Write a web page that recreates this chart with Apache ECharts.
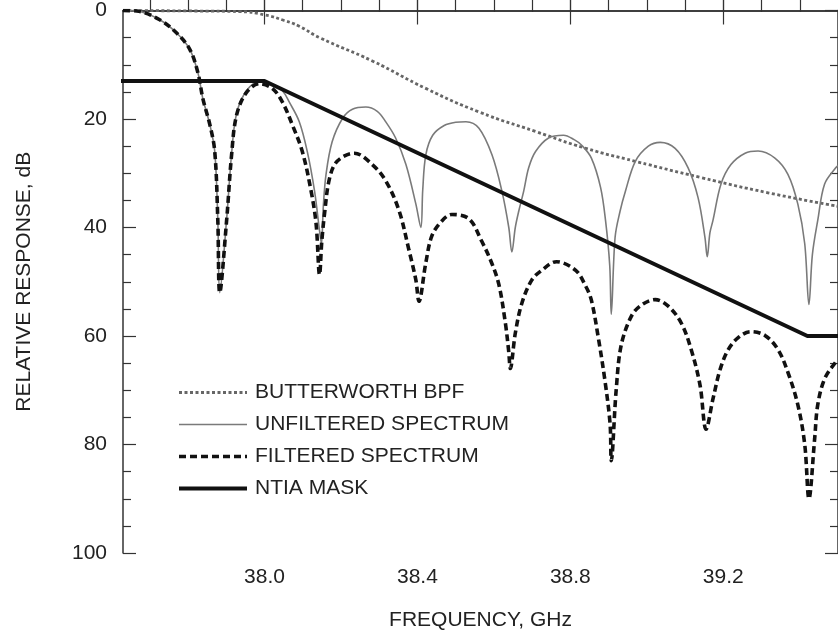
<!DOCTYPE html>
<html>
<head>
<meta charset="utf-8">
<script src="https://cdn.jsdelivr.net/npm/echarts@6/dist/echarts.min.js"></script>
<style>
  html, body { margin: 0; padding: 0; background: #fff; }
  #chart { width: 838px; height: 636px; }
</style>
</head>
<body>
<div id="chart"></div>
<script>
// axis ticks
var xMajorTicks = [38.0, 38.4, 38.8, 39.2];
var xMinorTicks = [37.7, 37.8, 37.9, 38.0, 38.1, 38.2, 38.3, 38.4, 38.5, 38.6, 38.7, 38.8, 38.9, 39.0, 39.1, 39.2, 39.3, 39.4];

// butterworth band pass filter response
var bpfFreq = [37.63, 37.83, 37.935, 38.0, 38.05, 38.091, 38.144, 38.282, 38.423, 38.561, 38.709, 38.84, 38.97, 39.142, 39.317, 39.5];
var bpfDb = [0, 0.1, 0.2, 0.8, 1.8, 2.9, 5.0, 9.3, 14.4, 18.7, 22.3, 25.4, 27.8, 30.8, 33.6, 36.1];

// unfiltered spectrum
var unfFreq = [37.63, 37.666, 37.726, 37.771, 37.805, 37.826, 37.839, 37.857, 37.870, 37.878, 37.883,
  37.901, 37.914, 37.927, 37.953, 37.987, 38.021, 38.047, 38.065, 38.091, 38.112, 38.131, 38.144, 38.149,
  38.154, 38.161, 38.177, 38.204, 38.230, 38.265, 38.295, 38.317, 38.343, 38.370, 38.396, 38.409,
  38.414, 38.422, 38.440, 38.470, 38.500, 38.527, 38.561, 38.595, 38.621, 38.639, 38.647,
  38.656, 38.665, 38.678, 38.691, 38.709, 38.743, 38.782, 38.810, 38.829, 38.855, 38.879, 38.892, 38.903, 38.907,
  38.917, 38.930, 38.944, 38.970, 39.004, 39.035, 39.074, 39.108, 39.134, 39.152, 39.158,
  39.165, 39.173, 39.194, 39.220, 39.257, 39.291, 39.335, 39.369, 39.395, 39.413, 39.424,
  39.433, 39.447, 39.465, 39.494, 39.5];
var unfDb = [0, 0.1, 1.7, 4.2, 7.2, 11.5, 16.3, 21, 26, 38.7, 52,
  38.5, 26.4, 19, 14.8, 13.1, 13.6, 14.8, 16.9, 20.5, 26, 33.3, 40.6, 43,
  36, 30.2, 24.2, 19.9, 18.2, 17.8, 18.6, 20.5, 23.5, 28.4, 35.7, 40,
  33, 26.6, 23, 21.2, 20.6, 20.5, 21.7, 26.6, 33.3, 40, 44.5,
  40, 37, 33.3, 29, 26, 23.5, 23, 23.8, 24.8, 27.2, 32.6, 38.7, 47, 56,
  41.8, 37, 33.3, 27.8, 25, 24.3, 25.4, 29, 34.5, 41.8, 45.4,
  41, 38.7, 32, 28.4, 26.3, 25.9, 27.2, 30.2, 35.7, 43, 54.2,
  45, 38.7, 32, 29, 28.6];

// filtered spectrum
var filFreq = [37.63, 37.666, 37.726, 37.771, 37.805, 37.826, 37.839, 37.857, 37.870, 37.878, 37.883,
  37.901, 37.914, 37.927, 37.953, 37.987, 38.021, 38.047, 38.073, 38.099, 38.122, 38.135, 38.144,
  38.150, 38.157, 38.170, 38.190, 38.235, 38.282, 38.318, 38.352, 38.378, 38.396, 38.404,
  38.422, 38.438, 38.464, 38.490, 38.535, 38.568, 38.594, 38.613, 38.630, 38.639, 38.643,
  38.656, 38.673, 38.699, 38.725, 38.764, 38.814, 38.840, 38.855, 38.874, 38.891, 38.904, 38.907,
  38.920, 38.933, 38.960, 38.986, 39.022, 39.056, 39.090, 39.116, 39.139, 39.155,
  39.173, 39.192, 39.213, 39.239, 39.272, 39.309, 39.343, 39.369, 39.395, 39.413, 39.424,
  39.439, 39.447, 39.465, 39.494, 39.5];
var filDb = [0, 0.1, 1.7, 4.2, 7.2, 11.5, 16.3, 21, 26, 38.7, 52,
  38.7, 26.6, 19.3, 15.1, 13.5, 14.4, 16.9, 21.1, 26, 33.3, 39.3, 48.7,
  42.5, 37.5, 31, 27.8, 26.3, 28.4, 31.5, 36.9, 44.2, 49.7, 53.6,
  46.5, 41.5, 38.8, 37.6, 38.4, 42.5, 46.5, 50.5, 57.6, 63, 66,
  59.5, 54, 49.7, 47.9, 46.3, 47.9, 50.8, 53.4, 60.7, 68.5, 76.3, 83,
  69.8, 61.7, 56.3, 54.3, 53.3, 54.5, 57.6, 62.5, 69, 77.2,
  71.6, 66.1, 62.5, 60.3, 59.2, 59.9, 62.5, 66.7, 72.7, 80, 90,
  78.9, 72.7, 67.9, 64.8, 64.5];

// NTIA mask
var ntiaFreq = [37.617, 38.0, 39.42, 39.5];
var ntiaDb = [13, 13, 60, 60];

function pairs(xs, ys) {
  var out = [];
  for (var i = 0; i < xs.length; i++) {
    out.push([xs[i], ys[i]]);
  }
  return out;
}

var font = 'Liberation Sans, Arial, Helvetica, sans-serif';
var axisColor = '#333';
var rect = { left: 123, top: 4, width: 716, height: 549 };

// major x ticks (with labels) on grid 0, minor x ticks on grid 1
function xAxisOf(grid, pos, ticks, len, withLine, withLabel) {
  var ax = {
    type: 'value',
    gridIndex: grid,
    position: pos,
    min: 37.63,
    max: 39.5,
    axisLine: { show: withLine, lineStyle: { color: axisColor, width: 1.5 } },
    axisTick: { inside: true, length: len, customValues: ticks, lineStyle: { color: axisColor, width: 1.2 } },
    axisLabel: { show: false },
    splitLine: { show: false }
  };
  if (withLabel) {
    ax.axisLabel = {
      show: true, customValues: xMajorTicks, margin: 14,
      fontFamily: font, fontSize: 21, color: '#222',
      formatter: function (v) { return v.toFixed(1); }
    };
    ax.name = 'FREQUENCY, GHz';
    ax.nameLocation = 'middle';
    ax.nameGap = 57;
    ax.nameTextStyle = { fontFamily: font, fontSize: 21, color: '#222' };
  }
  return ax;
}

function yAxisOf(grid, pos, withLabel, show) {
  var ax = {
    type: 'value',
    gridIndex: grid,
    position: pos,
    show: show,
    inverse: true,
    min: 0,
    max: 100,
    interval: 20,
    axisLine: { show: true, lineStyle: { color: axisColor, width: 1.5 } },
    axisTick: { inside: true, length: 13, lineStyle: { color: axisColor, width: 1.2 } },
    minorTick: { show: true, splitNumber: 4, length: 8, lineStyle: { color: axisColor, width: 1.2 } },
    axisLabel: { show: withLabel, margin: 16, fontFamily: font, fontSize: 21, color: '#222' },
    splitLine: { show: false }
  };
  if (withLabel) {
    ax.name = 'RELATIVE RESPONSE, dB';
    ax.nameLocation = 'middle';
    ax.nameGap = 88;
    ax.nameTextStyle = { fontFamily: font, fontSize: 21, color: '#222' };
  }
  return ax;
}

var chart = echarts.init(document.getElementById('chart'), null, { renderer: 'canvas' });

var option = {
  animation: false,
  backgroundColor: '#fff',
  grid: [
    { left: rect.left, top: rect.top, width: rect.width, height: rect.height },
    { left: rect.left, top: rect.top, width: rect.width, height: rect.height }
  ],
  xAxis: [
    xAxisOf(0, 'bottom', xMajorTicks, 14, true, true),
    xAxisOf(0, 'top', xMajorTicks, 14, true, false),
    xAxisOf(1, 'bottom', xMinorTicks, 8, false, false),
    xAxisOf(1, 'top', xMinorTicks, 8, false, false)
  ],
  yAxis: [
    yAxisOf(0, 'left', true, true),
    yAxisOf(0, 'right', false, true),
    yAxisOf(1, 'left', false, false)
  ],
  legend: {
    orient: 'vertical',
    left: 172,
    top: 377,
    itemWidth: 68,
    itemHeight: 14,
    itemGap: 11,
    textStyle: { fontFamily: font, fontSize: 21, color: '#222', padding: [0, 0, 0, 3] },
    itemStyle: { opacity: 0 },
    lineStyle: { width: 'inherit' },
    data: ['BUTTERWORTH BPF', 'UNFILTERED SPECTRUM', 'FILTERED SPECTRUM', 'NTIA MASK']
  },
  series: [
    {
      name: 'BUTTERWORTH BPF',
      type: 'line',
      xAxisIndex: 0, yAxisIndex: 0,
      symbol: 'none',
      smooth: 0.5,
      lineStyle: { color: '#666', width: 2.8, type: [3, 2.5] },
      itemStyle: { color: '#666' },
      data: pairs(bpfFreq, bpfDb)
    },
    {
      name: 'UNFILTERED SPECTRUM',
      type: 'line',
      xAxisIndex: 0, yAxisIndex: 0,
      symbol: 'none',
      smooth: 0.35,
      lineStyle: { color: '#7a7a7a', width: 1.6 },
      itemStyle: { color: '#7a7a7a' },
      data: pairs(unfFreq, unfDb)
    },
    {
      name: 'FILTERED SPECTRUM',
      type: 'line',
      xAxisIndex: 0, yAxisIndex: 0,
      symbol: 'none',
      smooth: 0.35,
      lineStyle: { color: '#111', width: 3.6, type: [7, 4] },
      itemStyle: { color: '#111' },
      data: pairs(filFreq, filDb)
    },
    {
      name: 'NTIA MASK',
      type: 'line',
      xAxisIndex: 0, yAxisIndex: 0,
      symbol: 'none',
      clip: false,
      lineStyle: { color: '#111', width: 4 },
      itemStyle: { color: '#111' },
      data: pairs(ntiaFreq, ntiaDb)
    }
  ]
};

chart.setOption(option);
</script>
</body>
</html>
